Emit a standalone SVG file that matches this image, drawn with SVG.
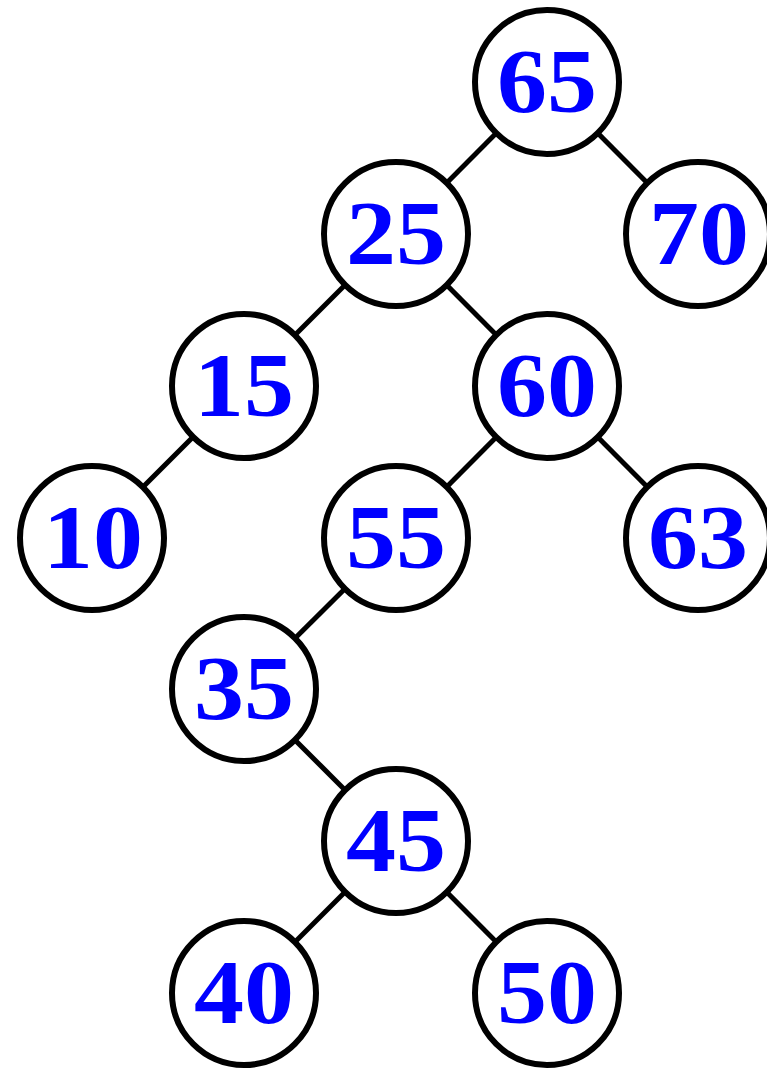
<svg xmlns="http://www.w3.org/2000/svg" width="767" height="1068" viewBox="0 0 767 1068">
<style>
.n circle{fill:#fff;stroke:#000;stroke-width:6}
.n text{font-family:"Liberation Serif",serif;font-weight:bold;font-size:92px;fill:#0000ff;text-anchor:middle}
#edges line{stroke:#000;stroke-width:5}
</style>
<rect width="767" height="1068" fill="#fff"/>
<g id="edges">
<line x1="547" y1="82" x2="396" y2="234"/>
<line x1="547" y1="82" x2="698" y2="234"/>
<line x1="396" y1="234" x2="244" y2="386"/>
<line x1="396" y1="234" x2="547" y2="386"/>
<line x1="244" y1="386" x2="92" y2="538"/>
<line x1="547" y1="386" x2="396" y2="538"/>
<line x1="547" y1="386" x2="698" y2="538"/>
<line x1="396" y1="538" x2="244" y2="689"/>
<line x1="244" y1="689" x2="396" y2="841"/>
<line x1="396" y1="841" x2="244" y2="993"/>
<line x1="396" y1="841" x2="547" y2="993"/>
</g>
<g id="n65" class="n"><circle cx="547" cy="82" r="72"/><text x="547" y="112" textLength="100" lengthAdjust="spacingAndGlyphs">65</text></g>
<g id="n25" class="n"><circle cx="396" cy="234" r="72"/><text x="396" y="264" textLength="100" lengthAdjust="spacingAndGlyphs">25</text></g>
<g id="n70" class="n"><circle cx="698" cy="234" r="72"/><text x="699" y="264" textLength="100" lengthAdjust="spacingAndGlyphs">70</text></g>
<g id="n15" class="n"><circle cx="244" cy="386" r="72"/><text x="244" y="416" textLength="100" lengthAdjust="spacingAndGlyphs">15</text></g>
<g id="n60" class="n"><circle cx="547" cy="386" r="72"/><text x="547" y="416" textLength="100" lengthAdjust="spacingAndGlyphs">60</text></g>
<g id="n10" class="n"><circle cx="92" cy="538" r="72"/><text x="93" y="568" textLength="100" lengthAdjust="spacingAndGlyphs">10</text></g>
<g id="n55" class="n"><circle cx="396" cy="538" r="72"/><text x="396" y="568" textLength="100" lengthAdjust="spacingAndGlyphs">55</text></g>
<g id="n63" class="n"><circle cx="698" cy="538" r="72"/><text x="698" y="568" textLength="100" lengthAdjust="spacingAndGlyphs">63</text></g>
<g id="n35" class="n"><circle cx="244" cy="689" r="72"/><text x="244" y="719" textLength="100" lengthAdjust="spacingAndGlyphs">35</text></g>
<g id="n45" class="n"><circle cx="396" cy="841" r="72"/><text x="396" y="871" textLength="100" lengthAdjust="spacingAndGlyphs">45</text></g>
<g id="n40" class="n"><circle cx="244" cy="993" r="72"/><text x="244" y="1023" textLength="100" lengthAdjust="spacingAndGlyphs">40</text></g>
<g id="n50" class="n"><circle cx="547" cy="993" r="72"/><text x="547" y="1023" textLength="100" lengthAdjust="spacingAndGlyphs">50</text></g>
</svg>
